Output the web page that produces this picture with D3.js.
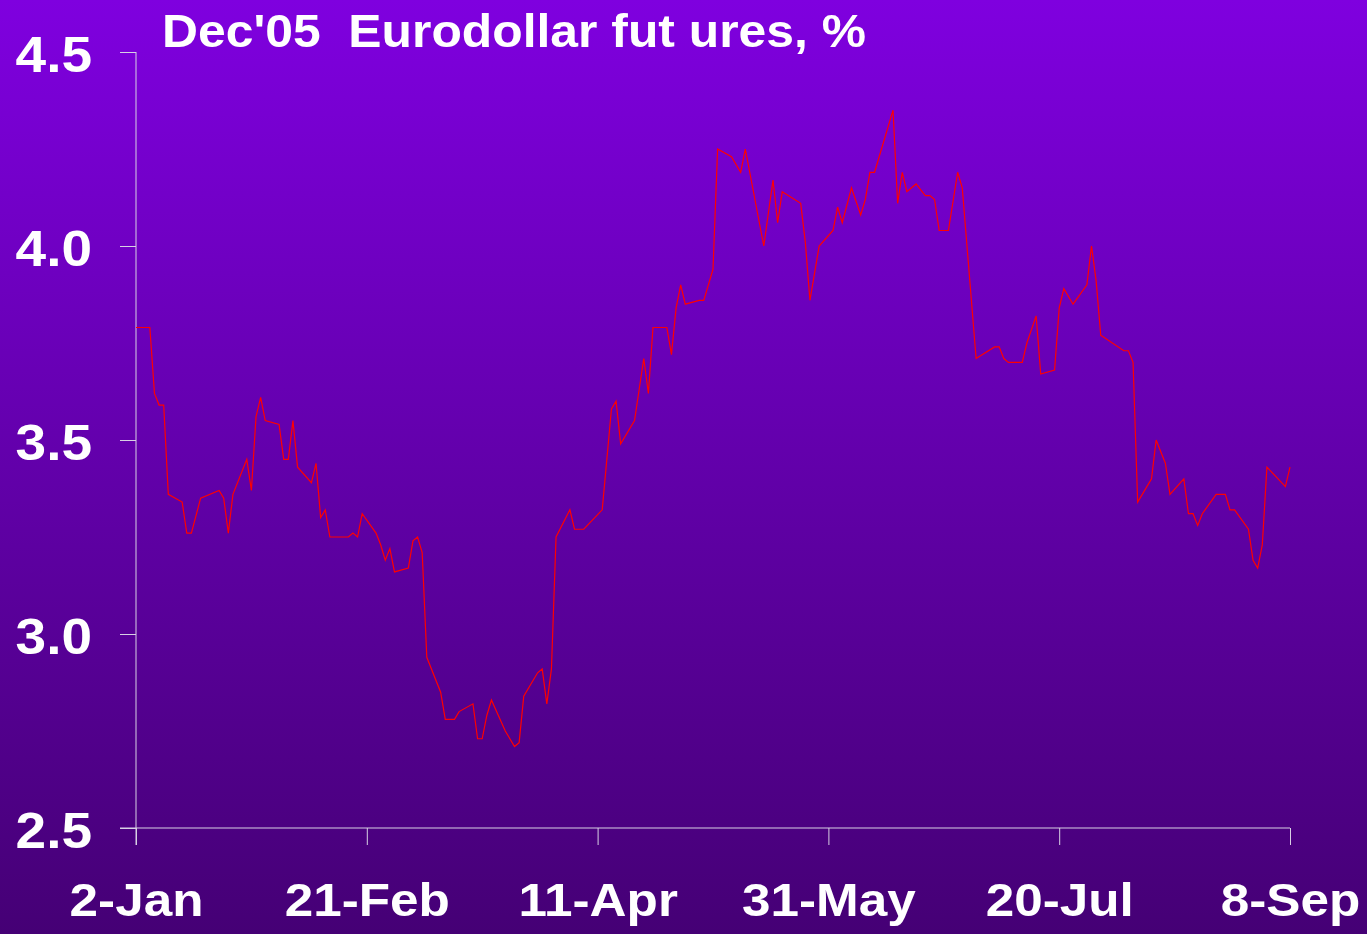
<!DOCTYPE html>
<html>
<head>
<meta charset="utf-8">
<script src="https://cdn.jsdelivr.net/npm/d3@7"></script>
<style>
  html, body { margin: 0; padding: 0; }
  svg { display: block; }
  text { font-family: "Liberation Sans", Arial, sans-serif; font-weight: bold; fill: #fff; }
</style>
</head>
<body>
<svg id="svg_eurodollar" width="1367" height="934"></svg>
<script>
const dates = [
  '2004-01-02', '2004-01-05', '2004-01-06', '2004-01-07', '2004-01-08', '2004-01-09', '2004-01-12', '2004-01-13',
  '2004-01-14', '2004-01-16', '2004-01-20', '2004-01-21', '2004-01-22', '2004-01-23', '2004-01-26', '2004-01-27',
  '2004-01-28', '2004-01-29', '2004-01-30', '2004-02-02', '2004-02-03', '2004-02-04', '2004-02-05', '2004-02-06',
  '2004-02-09', '2004-02-10', '2004-02-11', '2004-02-12', '2004-02-13', '2004-02-17', '2004-02-18', '2004-02-19',
  '2004-02-20', '2004-02-23', '2004-02-24', '2004-02-25', '2004-02-26', '2004-02-27', '2004-03-01', '2004-03-02',
  '2004-03-03', '2004-03-04', '2004-03-05', '2004-03-08', '2004-03-09', '2004-03-11', '2004-03-12', '2004-03-15',
  '2004-03-16', '2004-03-17', '2004-03-18', '2004-03-19', '2004-03-22', '2004-03-24', '2004-03-25', '2004-03-26',
  '2004-03-29', '2004-03-30', '2004-03-31', '2004-04-01', '2004-04-02', '2004-04-05', '2004-04-06', '2004-04-08',
  '2004-04-12', '2004-04-14', '2004-04-15', '2004-04-16', '2004-04-19', '2004-04-21', '2004-04-22', '2004-04-23',
  '2004-04-26', '2004-04-27', '2004-04-28', '2004-04-29', '2004-04-30', '2004-05-03', '2004-05-04', '2004-05-06',
  '2004-05-07', '2004-05-10', '2004-05-12', '2004-05-13', '2004-05-17', '2004-05-19', '2004-05-20', '2004-05-21',
  '2004-05-25', '2004-05-26', '2004-05-27', '2004-05-29', '2004-06-01', '2004-06-02', '2004-06-03', '2004-06-05',
  '2004-06-07', '2004-06-08', '2004-06-09', '2004-06-10', '2004-06-14', '2004-06-15', '2004-06-16', '2004-06-17',
  '2004-06-19', '2004-06-21', '2004-06-22', '2004-06-23', '2004-06-24', '2004-06-26', '2004-06-28', '2004-06-29',
  '2004-07-02', '2004-07-06', '2004-07-07', '2004-07-08', '2004-07-09', '2004-07-12', '2004-07-13', '2004-07-15',
  '2004-07-16', '2004-07-19', '2004-07-20', '2004-07-21', '2004-07-23', '2004-07-26', '2004-07-27', '2004-07-28',
  '2004-07-29', '2004-08-03', '2004-08-04', '2004-08-05', '2004-08-06', '2004-08-09', '2004-08-10', '2004-08-12',
  '2004-08-13', '2004-08-16', '2004-08-17', '2004-08-18', '2004-08-19', '2004-08-20', '2004-08-23', '2004-08-25',
  '2004-08-26', '2004-08-27', '2004-08-30', '2004-08-31', '2004-09-01', '2004-09-02', '2004-09-03', '2004-09-07',
  '2004-09-08',
];

const rates = [
  3.79, 3.79, 3.62, 3.59, 3.59, 3.36, 3.34, 3.26,
  3.26, 3.35, 3.37, 3.35, 3.26, 3.36, 3.45, 3.37,
  3.56, 3.61, 3.55, 3.54, 3.45, 3.45, 3.55, 3.43,
  3.39, 3.44, 3.30, 3.32, 3.25, 3.25, 3.26, 3.25,
  3.31, 3.26, 3.23, 3.19, 3.22, 3.16, 3.17, 3.24,
  3.25, 3.21, 2.94, 2.85, 2.78, 2.78, 2.80, 2.82,
  2.73, 2.73, 2.79, 2.83, 2.75, 2.71, 2.72, 2.84,
  2.90, 2.91, 2.82, 2.91, 3.25, 3.32, 3.27, 3.27,
  3.32, 3.58, 3.60, 3.49, 3.55, 3.71, 3.62, 3.79,
  3.79, 3.72, 3.84, 3.90, 3.85, 3.86, 3.86, 3.94,
  4.25, 4.23, 4.19, 4.25, 4.00, 4.17, 4.06, 4.14,
  4.11, 4.01, 3.86, 4.00, 4.04, 4.10, 4.06, 4.15,
  4.08, 4.12, 4.19, 4.19, 4.35, 4.11, 4.19, 4.14,
  4.16, 4.13, 4.13, 4.12, 4.04, 4.04, 4.19, 4.15,
  3.71, 3.74, 3.74, 3.71, 3.70, 3.70, 3.75, 3.82,
  3.67, 3.68, 3.84, 3.89, 3.85, 3.90, 4.00, 3.91,
  3.77, 3.73, 3.73, 3.70, 3.34, 3.40, 3.50, 3.44,
  3.36, 3.40, 3.31, 3.31, 3.28, 3.31, 3.36, 3.36,
  3.32, 3.32, 3.27, 3.19, 3.17, 3.23, 3.43, 3.38,
  3.43,
];

const yTicks = [2.5, 3.0, 3.5, 4.0, 4.5];
const xTickDates = ['2004-01-02', '2004-02-21', '2004-04-11', '2004-05-31', '2004-07-20', '2004-09-08'];
const title = "Dec'05  Eurodollar fut ures, %";

const width = 1367;
const height = 934;
const plotLeft = 136;
const plotRight = 1290;
const plotTop = 52;
const plotBottom = 828;

const parse = d3.timeParse('%Y-%m-%d');
const series = dates.map((d, i) => ({ date: parse(d), value: rates[i] }));

const xScale = d3.scaleTime()
  .domain([parse(xTickDates[0]), parse(xTickDates[xTickDates.length - 1])])
  .range([plotLeft, plotRight]);
const yScale = d3.scaleLinear()
  .domain([2.5, 4.5])
  .range([plotBottom, plotTop]);

const svg = d3.select('#svg_eurodollar');

const grad = svg.append('defs')
  .append('linearGradient')
  .attr('id', 'bg')
  .attr('x1', 0).attr('y1', 0)
  .attr('x2', 0).attr('y2', 1);
grad.append('stop').attr('offset', '0%').attr('stop-color', '#7f00df');
grad.append('stop').attr('offset', '100%').attr('stop-color', '#450075');

svg.append('rect')
  .attr('width', width)
  .attr('height', height)
  .attr('fill', 'url(#bg)');

// y axis
const yAxis = svg.append('g')
  .attr('transform', `translate(${plotLeft}, 0)`)
  .call(d3.axisLeft(yScale).tickValues(yTicks).tickSize(16).tickPadding(28).tickFormat(d3.format('.1f')));
yAxis.selectAll('text')
  .attr('font-size', 50)
  .attr('dy', '19px')
  .attr('fill', '#fff');
yAxis.selectAll('text').each(function () {
  d3.select(this).attr('textLength', this.getComputedTextLength() * 1.1).attr('lengthAdjust', 'spacingAndGlyphs');
});

// x axis
const xAxis = svg.append('g')
  .attr('transform', `translate(0, ${plotBottom})`)
  .call(d3.axisBottom(xScale).tickValues(xTickDates.map(parse)).tickSize(17).tickPadding(71).tickFormat(d3.timeFormat('%-d-%b')));
xAxis.selectAll('text')
  .attr('font-size', 47)
  .attr('dy', '0px')
  .attr('fill', '#fff');
xAxis.selectAll('text').each(function () {
  d3.select(this).attr('textLength', this.getComputedTextLength() * 1.09).attr('lengthAdjust', 'spacingAndGlyphs');
});

svg.selectAll('.domain').remove();
svg.selectAll('.tick line').attr('stroke', '#d8d0e4').attr('stroke-width', 1);
svg.append('line')
  .attr('x1', plotLeft).attr('x2', plotLeft)
  .attr('y1', plotTop).attr('y2', plotBottom + 17)
  .attr('stroke', '#d8d0e4');
svg.append('line')
  .attr('x1', plotLeft - 16).attr('x2', plotRight)
  .attr('y1', plotBottom).attr('y2', plotBottom)
  .attr('stroke', '#d8d0e4');

// series
svg.append('path')
  .datum(series)
  .attr('fill', 'none')
  .attr('stroke', '#ff0000')
  .attr('stroke-width', 1.2)
  .attr('d', d3.line().x((d) => xScale(d.date)).y((d) => yScale(d.value)));

svg.append('text')
  .text(title)
  .attr('x', 162)
  .attr('y', 47)
  .attr('font-size', 47)
  .attr('textLength', 704)
  .attr('lengthAdjust', 'spacingAndGlyphs')
  .style('white-space', 'pre');
</script>
</body>
</html>
